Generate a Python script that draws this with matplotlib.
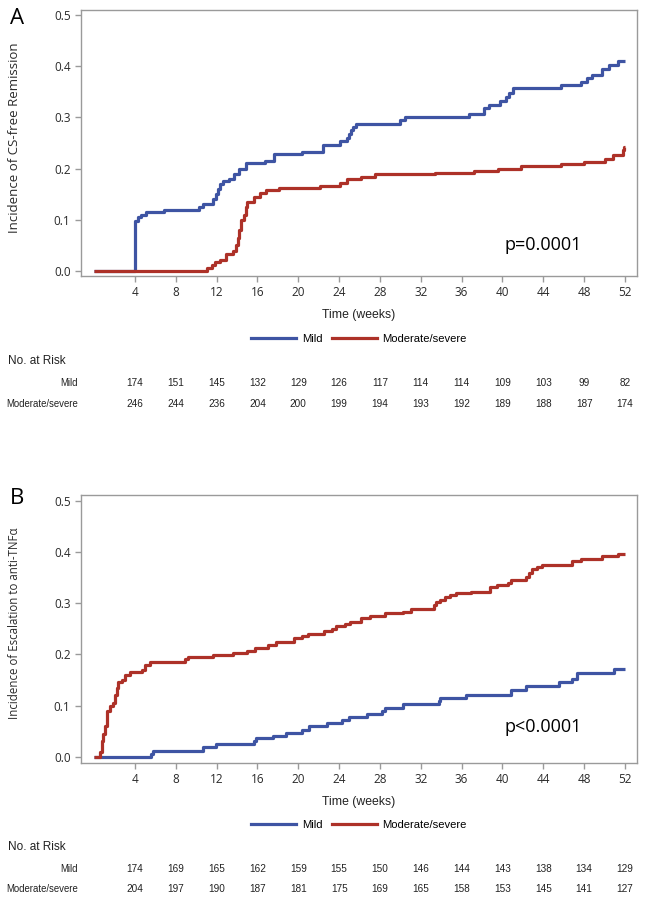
import matplotlib
matplotlib.use("Agg")
import matplotlib.pyplot as plt
from matplotlib.lines import Line2D
from matplotlib.transforms import blended_transform_factory

# ── Данные: панель A (CS-free remission) ────────────────────────────────
a_mild_t = [0, 4.0, 4.3, 4.6, 5.1, 6.8, 10.3, 10.7, 11.6, 11.9, 12.1, 12.3, 12.6,
            13.2, 13.7, 14.2, 14.9, 16.7, 17.6, 20.4, 22.4, 24.1, 24.75, 25.0,
            25.2, 25.4, 25.7, 30.0, 30.5, 36.7, 38.2, 38.7, 39.8, 40.3, 40.6,
            41.0, 45.7, 47.7, 48.3, 48.8, 49.8, 50.4, 51.3, 52.0]
a_mild_v = [0, 0.097, 0.105, 0.110, 0.115, 0.120, 0.125, 0.130, 0.140, 0.150,
            0.160, 0.170, 0.175, 0.180, 0.190, 0.200, 0.210, 0.215, 0.228, 0.233,
            0.246, 0.253, 0.260, 0.268, 0.275, 0.282, 0.288, 0.295, 0.301, 0.307,
            0.318, 0.324, 0.333, 0.340, 0.347, 0.357, 0.363, 0.370, 0.376, 0.383,
            0.394, 0.402, 0.410, 0.410]

a_mod_t = [0, 11.1, 11.5, 11.8, 12.3, 12.9, 13.6, 13.9, 14.05, 14.2, 14.4, 14.7,
           14.85, 15.0, 15.7, 16.2, 16.8, 18.1, 22.1, 24.1, 24.75, 26.1, 27.5,
           33.4, 37.2, 39.6, 41.8, 45.7, 48.0, 50.0, 50.8, 51.8, 51.95, 52.0]
a_mod_v = [0, 0.005, 0.012, 0.018, 0.022, 0.034, 0.040, 0.050, 0.065, 0.080,
           0.100, 0.110, 0.125, 0.135, 0.145, 0.153, 0.158, 0.162, 0.166, 0.171,
           0.179, 0.184, 0.189, 0.192, 0.196, 0.200, 0.205, 0.209, 0.213, 0.218,
           0.227, 0.236, 0.243, 0.243]

# ── Данные: панель B (escalation to anti-TNFα) ──────────────────────────
b_mild_t = [0, 5.6, 5.8, 10.7, 11.9, 15.7, 15.85, 17.5, 18.8, 20.4, 21.0, 22.8,
            24.3, 25.0, 26.7, 28.2, 28.5, 30.3, 33.75, 33.9, 36.4, 40.8, 42.3,
            45.5, 46.8, 47.3, 50.9, 52.0]
b_mild_v = [0, 0.006, 0.012, 0.018, 0.024, 0.030, 0.036, 0.041, 0.047, 0.053,
            0.060, 0.065, 0.072, 0.077, 0.083, 0.090, 0.096, 0.102, 0.109, 0.115,
            0.120, 0.131, 0.138, 0.145, 0.152, 0.164, 0.171, 0.171]

b_mod_t = [0, 0.58, 0.75, 0.9, 1.07, 1.23, 1.56, 1.88, 2.05, 2.2, 2.37, 2.7, 3.0,
           3.5, 4.64, 4.97, 5.45, 8.86, 9.2, 11.6, 13.6, 15.0, 15.8, 17.0, 17.8,
           19.6, 20.4, 20.9, 22.5, 23.3, 23.7, 24.6, 25.1, 26.1, 27.0, 28.5, 30.3,
           31.0, 33.3, 33.5, 33.9, 34.4, 34.9, 35.4, 36.9, 38.8, 39.5, 40.5, 40.8,
           42.3, 42.6, 42.9, 43.4, 43.9, 46.8, 47.7, 49.8, 51.3, 52.0]
b_mod_v = [0, 0.010, 0.030, 0.045, 0.060, 0.090, 0.100, 0.105, 0.120, 0.135,
           0.145, 0.150, 0.160, 0.165, 0.170, 0.180, 0.185, 0.190, 0.194, 0.198,
           0.202, 0.207, 0.212, 0.218, 0.224, 0.231, 0.236, 0.240, 0.245, 0.250,
           0.256, 0.260, 0.264, 0.271, 0.275, 0.280, 0.283, 0.289, 0.296, 0.303,
           0.307, 0.311, 0.316, 0.319, 0.322, 0.331, 0.335, 0.340, 0.345, 0.350,
           0.358, 0.366, 0.371, 0.374, 0.383, 0.387, 0.392, 0.395, 0.395]

# ── Число под риском ────────────────────────────────────────────────────
risk_weeks = [4, 8, 12, 16, 20, 24, 28, 32, 36, 40, 44, 48, 52]
a_risk_mild = [174, 151, 145, 132, 129, 126, 117, 114, 114, 109, 103, 99, 82]
a_risk_mod = [246, 244, 236, 204, 200, 199, 194, 193, 192, 189, 188, 187, 174]
b_risk_mild = [174, 169, 165, 162, 159, 155, 150, 146, 144, 143, 138, 134, 129]
b_risk_mod = [204, 197, 190, 187, 181, 175, 169, 165, 158, 153, 145, 141, 127]

groups = ["Mild", "Moderate/severe"]
x_ticks = [4, 8, 12, 16, 20, 24, 28, 32, 36, 40, 44, 48, 52]
y_ticks = [0.0, 0.1, 0.2, 0.3, 0.4, 0.5]

BLUE = "#3E54A3"
RED = "#AD3128"
FRAME = "#9A9A9A"
TICK_FONT = ["Open Sans", "DejaVu Sans"]
NARROW = ["Liberation Sans Narrow", "Liberation Sans", "DejaVu Sans"]

fig = plt.figure(figsize=(6.45, 9.0), dpi=100)

panels = [
    dict(letter="A", ylabel="Incidence of CS-free Remission", ylsize=9.5,
         pval="p=0.0001", mild=(a_mild_t, a_mild_v), mod=(a_mod_t, a_mod_v),
         risk=(a_risk_mild, a_risk_mod),
         rect=[81 / 645, 1 - 276 / 900, 556 / 645, 266 / 900], ylim=(-0.0098, 0.5098),
         py=0.05, letter_y=1 - 18 / 900,
         rows_y=[1 - 315 / 900, 1 - 339 / 900, 1 - 361 / 900, 1 - 383 / 900, 1 - 404 / 900]),
    dict(letter="B", ylabel="Incidence of Escalation to anti-TNFα", ylsize=8.3,
         pval="p<0.0001", mild=(b_mild_t, b_mild_v), mod=(b_mod_t, b_mod_v),
         risk=(b_risk_mild, b_risk_mod),
         rect=[81 / 645, 1 - 762.7 / 900, 556 / 645, 267.7 / 900], ylim=(-0.0117, 0.5111),
         py=0.058, letter_y=1 - 498 / 900,
         rows_y=[1 - 802 / 900, 1 - 825 / 900, 1 - 847 / 900, 1 - 869 / 900, 1 - 889 / 900]),
]

for p in panels:
    ax = fig.add_axes(p["rect"])
    ax.step(*p["mild"], where="post", color=BLUE, lw=2.3, solid_capstyle="butt")
    ax.step(*p["mod"], where="post", color=RED, lw=2.3, solid_capstyle="butt")
    ax.set_xlim(-1.29, 53.18)
    ax.set_ylim(*p["ylim"])
    ax.set_xticks(x_ticks)
    ax.set_yticks(y_ticks)
    ax.set_yticklabels([f"{v:.1f}" for v in y_ticks])
    for s in ax.spines.values():
        s.set_color(FRAME)
        s.set_linewidth(1.0)
    ax.tick_params(colors=FRAME, labelcolor="#2a2a2a", length=4.5, width=1.0,
                   labelsize=8.5, pad=3)
    for lab in ax.get_xticklabels() + ax.get_yticklabels():
        lab.set_family(TICK_FONT)
    ax.set_ylabel(p["ylabel"], fontsize=p["ylsize"], family=TICK_FONT,
                  color="#2a2a2a")
    ax.yaxis.set_label_coords(-0.108, 0.52)
    ax.text(40.2, p["py"], p["pval"], fontsize=13, family=TICK_FONT, color="black",
            va="center", ha="left")
    fig.text(10 / 645, p["letter_y"], p["letter"], fontsize=16, family=TICK_FONT,
             va="center", ha="left")

    ry = p["rows_y"]
    fig.text(359 / 645, ry[0], "Time (weeks)", fontsize=8.8, family=NARROW,
             ha="center", va="center", color="#222222")
    handles = [Line2D([], [], color=BLUE, lw=2.3), Line2D([], [], color=RED, lw=2.3)]
    fig.legend(handles, groups, loc="center", bbox_to_anchor=(359 / 645, ry[1]),
               ncol=2, frameon=False, handlelength=4.0, handletextpad=0.5,
               columnspacing=0.8, prop=dict(family=NARROW, size=8.1))
    fig.text(8 / 645, ry[2], "No. at Risk", fontsize=8.5, family=NARROW,
             ha="left", va="center", color="#222222")
    tr = blended_transform_factory(ax.transData, fig.transFigure)
    for name, vals, y in zip(groups, p["risk"], ry[3:]):
        fig.text(78 / 645, y, name, fontsize=6.9, family=NARROW, ha="right",
                 va="center", color="#222222")
        for w, n in zip(risk_weeks, vals):
            ax.text(w, y, str(n), transform=tr, fontsize=7.2, family=NARROW,
                    ha="center", va="center", color="#222222", clip_on=False)

fig.savefig("out.png", dpi=100)
